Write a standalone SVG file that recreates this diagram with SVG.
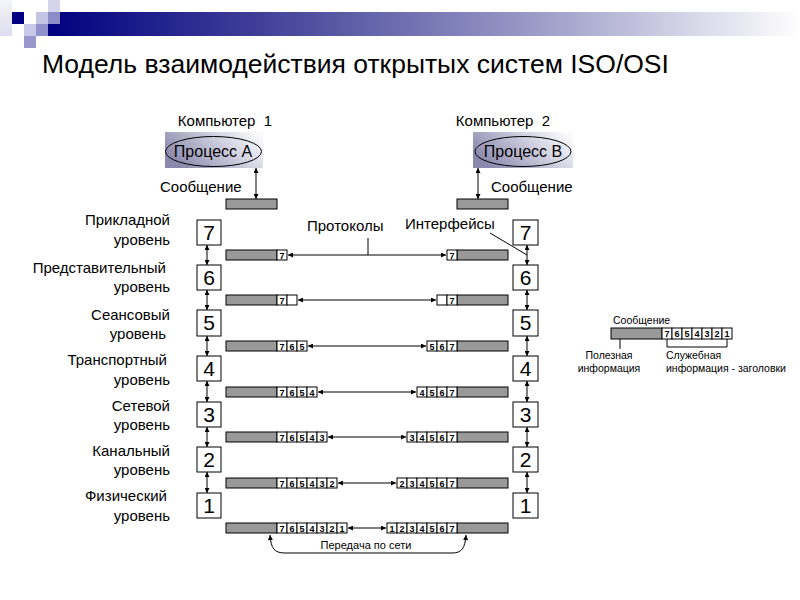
<svg xmlns="http://www.w3.org/2000/svg" width="800" height="600" viewBox="0 0 800 600">
<defs>
<linearGradient id="hdr" x1="0" y1="0" x2="1" y2="0">
<stop offset="0" stop-color="#000080"/>
<stop offset="0.35" stop-color="#5050a0"/>
<stop offset="0.65" stop-color="#9c9cc8"/>
<stop offset="1" stop-color="#ffffff"/>
</linearGradient>
<linearGradient id="lt" x1="0" y1="0" x2="0" y2="1">
<stop offset="0" stop-color="#f4f4fa"/>
<stop offset="1" stop-color="#dcdcee"/>
</linearGradient>
<linearGradient id="proc" x1="0" y1="0.6" x2="1" y2="0.2">
<stop offset="0" stop-color="#8a88ac"/>
<stop offset="0.6" stop-color="#cfcfe0"/>
<stop offset="1" stop-color="#fafafc"/>
</linearGradient>
<marker id="ah" viewBox="0 0 10 10" refX="10" refY="5" markerWidth="6" markerHeight="5" orient="auto-start-reverse" markerUnits="userSpaceOnUse">
<path d="M0,0 L10,5 L0,10 z" fill="#000"/>
</marker>
<style>
text{font-family:"Liberation Sans",Arial,sans-serif;fill:#000}
.t15{font-size:15px}
.t16{font-size:16px}
.lab{font-size:15px;text-anchor:end}
.num{font-size:21px;text-anchor:middle}
.box{fill:#fff;stroke:#000;stroke-width:1}
.gray{fill:#999;stroke:#000;stroke-width:1}
.cell{fill:#fff;stroke:#000;stroke-width:1}
.cn{font-size:9px;font-weight:bold;text-anchor:middle}
.ln{stroke:#000;stroke-width:1;fill:none}
.arr{stroke:#000;stroke-width:1;fill:none;marker-start:url(#ah);marker-end:url(#ah)}
.s10{font-size:10.5px}
</style>
</defs>
<rect width="800" height="600" fill="#fff"/>
<g id="header">
<rect x="0" y="0" width="12" height="36" fill="url(#lt)"/>
<rect x="48" y="12" width="752" height="24" fill="url(#hdr)"/>
<rect x="12" y="12" width="12" height="12" fill="#000080"/>
<rect x="36" y="12" width="12" height="12" fill="#c4c4e4"/>
<rect x="48" y="0" width="12" height="12" fill="#d4d4ec"/>
<rect x="48" y="12" width="12" height="12" fill="#8c8cc8"/>
<rect x="24" y="24" width="12" height="12" fill="#c8c8e8"/>
<rect x="36" y="24" width="12" height="12" fill="#9090cc"/>
<rect x="24" y="36" width="12" height="12" fill="#9898cc"/>
</g>
<text x="42" y="73" style="font-size:26.5px">Модель взаимодействия открытых систем ISO/OSI</text>
<g id="comp1">
<text x="225" y="126" class="t15" text-anchor="middle" xml:space="preserve">Компьютер  1</text>
<rect x="165" y="132" width="98" height="36" fill="url(#proc)"/>
<ellipse cx="213.5" cy="151.5" rx="48" ry="15" class="ln"/>
<text x="213" y="157" class="t16" text-anchor="middle">Процесс А</text>
<text x="160" y="192" class="t15">Сообщение</text>
<rect x="226" y="199" width="51" height="10" class="gray"/>
</g>
<g id="comp2">
<text x="503" y="126" class="t15" text-anchor="middle" xml:space="preserve">Компьютер  2</text>
<rect x="473" y="132" width="100" height="36" fill="url(#proc)"/>
<ellipse cx="523" cy="151.5" rx="48" ry="15" class="ln"/>
<text x="523" y="157" class="t16" text-anchor="middle">Процесс В</text>
<text x="491" y="192" class="t15">Сообщение</text>
<rect x="457" y="199" width="51" height="10" class="gray"/>
</g>
<g id="labels">
<text x="170" y="225" class="lab">Прикладной</text><text x="170" y="245" class="lab">уровень</text>
<text x="166" y="273" class="lab">Представительный</text><text x="170" y="292" class="lab">уровень</text>
<text x="170" y="320" class="lab">Сеансовый</text><text x="166" y="339" class="lab">уровень</text>
<text x="167" y="365" class="lab">Транспортный</text><text x="170" y="385" class="lab">уровень</text>
<text x="170" y="411" class="lab">Сетевой</text><text x="170" y="430" class="lab">уровень</text>
<text x="170" y="456" class="lab">Канальный</text><text x="170" y="475" class="lab">уровень</text>
<text x="167" y="501" class="lab">Физический</text><text x="170" y="521" class="lab">уровень</text>
</g>
<g id="left-stack">
<g id="L7"><rect x="197" y="220" width="24" height="25" class="box"/><text x="209" y="240" class="num">7</text></g>
<g id="L6"><rect x="197" y="265" width="24" height="25" class="box"/><text x="209" y="285" class="num">6</text></g>
<g id="L5"><rect x="197" y="310" width="24" height="26" class="box"/><text x="209" y="330" class="num">5</text></g>
<g id="L4"><rect x="197" y="356" width="24" height="25" class="box"/><text x="209" y="376" class="num">4</text></g>
<g id="L3"><rect x="197" y="402" width="24" height="25" class="box"/><text x="209" y="422" class="num">3</text></g>
<g id="L2"><rect x="197" y="447" width="24" height="25" class="box"/><text x="209" y="467" class="num">2</text></g>
<g id="L1"><rect x="197" y="493" width="24" height="25" class="box"/><text x="209" y="513" class="num">1</text></g>
</g>
<g id="right-stack">
<g id="R7"><rect x="513" y="220" width="25" height="25" class="box"/><text x="525.5" y="240" class="num">7</text></g>
<g id="R6"><rect x="513" y="265" width="25" height="25" class="box"/><text x="525.5" y="285" class="num">6</text></g>
<g id="R5"><rect x="513" y="310" width="25" height="26" class="box"/><text x="525.5" y="330" class="num">5</text></g>
<g id="R4"><rect x="513" y="356" width="25" height="25" class="box"/><text x="525.5" y="376" class="num">4</text></g>
<g id="R3"><rect x="513" y="402" width="25" height="25" class="box"/><text x="525.5" y="422" class="num">3</text></g>
<g id="R2"><rect x="513" y="447" width="25" height="25" class="box"/><text x="525.5" y="467" class="num">2</text></g>
<g id="R1"><rect x="513" y="493" width="25" height="25" class="box"/><text x="525.5" y="513" class="num">1</text></g>
</g>
<g id="packets">
<rect x="226" y="250" width="51" height="10" class="gray"/>
<rect x="277" y="250" width="10" height="10" class="cell"/><text x="282" y="258.5" class="cn">7</text>
<rect x="457" y="250" width="51" height="10" class="gray"/>
<rect x="447" y="250" width="10" height="10" class="cell"/><text x="452" y="258.5" class="cn">7</text>
<rect x="226" y="295" width="51" height="10" class="gray"/>
<rect x="277" y="295" width="10" height="10" class="cell"/><text x="282" y="303.5" class="cn">7</text>
<rect x="287" y="295" width="10" height="10" class="cell"/>
<rect x="457" y="295" width="51" height="10" class="gray"/>
<rect x="437" y="295" width="10" height="10" class="cell"/>
<rect x="447" y="295" width="10" height="10" class="cell"/><text x="452" y="303.5" class="cn">7</text>
<rect x="226" y="341" width="51" height="10" class="gray"/>
<rect x="277" y="341" width="10" height="10" class="cell"/><text x="282" y="349.5" class="cn">7</text>
<rect x="287" y="341" width="10" height="10" class="cell"/><text x="292" y="349.5" class="cn">6</text>
<rect x="297" y="341" width="10" height="10" class="cell"/><text x="302" y="349.5" class="cn">5</text>
<rect x="457" y="341" width="51" height="10" class="gray"/>
<rect x="427" y="341" width="10" height="10" class="cell"/><text x="432" y="349.5" class="cn">5</text>
<rect x="437" y="341" width="10" height="10" class="cell"/><text x="442" y="349.5" class="cn">6</text>
<rect x="447" y="341" width="10" height="10" class="cell"/><text x="452" y="349.5" class="cn">7</text>
<rect x="226" y="387" width="51" height="10" class="gray"/>
<rect x="277" y="387" width="10" height="10" class="cell"/><text x="282" y="395.5" class="cn">7</text>
<rect x="287" y="387" width="10" height="10" class="cell"/><text x="292" y="395.5" class="cn">6</text>
<rect x="297" y="387" width="10" height="10" class="cell"/><text x="302" y="395.5" class="cn">5</text>
<rect x="307" y="387" width="10" height="10" class="cell"/><text x="312" y="395.5" class="cn">4</text>
<rect x="457" y="387" width="51" height="10" class="gray"/>
<rect x="417" y="387" width="10" height="10" class="cell"/><text x="422" y="395.5" class="cn">4</text>
<rect x="427" y="387" width="10" height="10" class="cell"/><text x="432" y="395.5" class="cn">5</text>
<rect x="437" y="387" width="10" height="10" class="cell"/><text x="442" y="395.5" class="cn">6</text>
<rect x="447" y="387" width="10" height="10" class="cell"/><text x="452" y="395.5" class="cn">7</text>
<rect x="226" y="432" width="51" height="10" class="gray"/>
<rect x="277" y="432" width="10" height="10" class="cell"/><text x="282" y="440.5" class="cn">7</text>
<rect x="287" y="432" width="10" height="10" class="cell"/><text x="292" y="440.5" class="cn">6</text>
<rect x="297" y="432" width="10" height="10" class="cell"/><text x="302" y="440.5" class="cn">5</text>
<rect x="307" y="432" width="10" height="10" class="cell"/><text x="312" y="440.5" class="cn">4</text>
<rect x="317" y="432" width="10" height="10" class="cell"/><text x="322" y="440.5" class="cn">3</text>
<rect x="457" y="432" width="51" height="10" class="gray"/>
<rect x="407" y="432" width="10" height="10" class="cell"/><text x="412" y="440.5" class="cn">3</text>
<rect x="417" y="432" width="10" height="10" class="cell"/><text x="422" y="440.5" class="cn">4</text>
<rect x="427" y="432" width="10" height="10" class="cell"/><text x="432" y="440.5" class="cn">5</text>
<rect x="437" y="432" width="10" height="10" class="cell"/><text x="442" y="440.5" class="cn">6</text>
<rect x="447" y="432" width="10" height="10" class="cell"/><text x="452" y="440.5" class="cn">7</text>
<rect x="226" y="478" width="51" height="10" class="gray"/>
<rect x="277" y="478" width="10" height="10" class="cell"/><text x="282" y="486.5" class="cn">7</text>
<rect x="287" y="478" width="10" height="10" class="cell"/><text x="292" y="486.5" class="cn">6</text>
<rect x="297" y="478" width="10" height="10" class="cell"/><text x="302" y="486.5" class="cn">5</text>
<rect x="307" y="478" width="10" height="10" class="cell"/><text x="312" y="486.5" class="cn">4</text>
<rect x="317" y="478" width="10" height="10" class="cell"/><text x="322" y="486.5" class="cn">3</text>
<rect x="327" y="478" width="10" height="10" class="cell"/><text x="332" y="486.5" class="cn">2</text>
<rect x="457" y="478" width="51" height="10" class="gray"/>
<rect x="397" y="478" width="10" height="10" class="cell"/><text x="402" y="486.5" class="cn">2</text>
<rect x="407" y="478" width="10" height="10" class="cell"/><text x="412" y="486.5" class="cn">3</text>
<rect x="417" y="478" width="10" height="10" class="cell"/><text x="422" y="486.5" class="cn">4</text>
<rect x="427" y="478" width="10" height="10" class="cell"/><text x="432" y="486.5" class="cn">5</text>
<rect x="437" y="478" width="10" height="10" class="cell"/><text x="442" y="486.5" class="cn">6</text>
<rect x="447" y="478" width="10" height="10" class="cell"/><text x="452" y="486.5" class="cn">7</text>
<rect x="226" y="523" width="51" height="10" class="gray"/>
<rect x="277" y="523" width="10" height="10" class="cell"/><text x="282" y="531.5" class="cn">7</text>
<rect x="287" y="523" width="10" height="10" class="cell"/><text x="292" y="531.5" class="cn">6</text>
<rect x="297" y="523" width="10" height="10" class="cell"/><text x="302" y="531.5" class="cn">5</text>
<rect x="307" y="523" width="10" height="10" class="cell"/><text x="312" y="531.5" class="cn">4</text>
<rect x="317" y="523" width="10" height="10" class="cell"/><text x="322" y="531.5" class="cn">3</text>
<rect x="327" y="523" width="10" height="10" class="cell"/><text x="332" y="531.5" class="cn">2</text>
<rect x="337" y="523" width="10" height="10" class="cell"/><text x="342" y="531.5" class="cn">1</text>
<rect x="457" y="523" width="51" height="10" class="gray"/>
<rect x="387" y="523" width="10" height="10" class="cell"/><text x="392" y="531.5" class="cn">1</text>
<rect x="397" y="523" width="10" height="10" class="cell"/><text x="402" y="531.5" class="cn">2</text>
<rect x="407" y="523" width="10" height="10" class="cell"/><text x="412" y="531.5" class="cn">3</text>
<rect x="417" y="523" width="10" height="10" class="cell"/><text x="422" y="531.5" class="cn">4</text>
<rect x="427" y="523" width="10" height="10" class="cell"/><text x="432" y="531.5" class="cn">5</text>
<rect x="437" y="523" width="10" height="10" class="cell"/><text x="442" y="531.5" class="cn">6</text>
<rect x="447" y="523" width="10" height="10" class="cell"/><text x="452" y="531.5" class="cn">7</text>
</g>
<g id="connectors">
<line x1="256" y1="168" x2="256" y2="199" class="arr"/>
<line x1="478" y1="168" x2="478" y2="199" class="arr"/>
<line x1="207" y1="245" x2="207" y2="265" class="arr"/>
<line x1="207" y1="290" x2="207" y2="310" class="arr"/>
<line x1="207" y1="336" x2="207" y2="356" class="arr"/>
<line x1="207" y1="381" x2="207" y2="402" class="arr"/>
<line x1="207" y1="427" x2="207" y2="447" class="arr"/>
<line x1="207" y1="472" x2="207" y2="493" class="arr"/>
<line x1="527" y1="245" x2="527" y2="265" class="arr"/>
<line x1="527" y1="290" x2="527" y2="310" class="arr"/>
<line x1="527" y1="336" x2="527" y2="356" class="arr"/>
<line x1="527" y1="381" x2="527" y2="402" class="arr"/>
<line x1="527" y1="427" x2="527" y2="447" class="arr"/>
<line x1="527" y1="472" x2="527" y2="493" class="arr"/>
<line x1="288" y1="255" x2="446" y2="255" class="arr"/>
<line x1="298" y1="300" x2="436" y2="300" class="arr"/>
<line x1="308" y1="346" x2="426" y2="346" class="arr"/>
<line x1="318" y1="392" x2="416" y2="392" class="arr"/>
<line x1="328" y1="437" x2="406" y2="437" class="arr"/>
<line x1="338" y1="483" x2="396" y2="483" class="arr"/>
<line x1="348" y1="528" x2="386" y2="528" class="arr"/>
<line x1="368" y1="238" x2="368" y2="255" class="ln"/>
<line x1="490" y1="233" x2="527" y2="255" class="ln"/>
<path d="M270,535 C271,548 274,553 285,553 L452,553 C462,553 465,548 466,535" class="arr"/>
</g>
<text x="307" y="231" class="t15">Протоколы</text>
<text x="405" y="229" class="t15">Интерфейсы</text>
<text x="366" y="549" style="font-size:11px" text-anchor="middle">Передача по сети</text>
<g id="legend">
<text x="613" y="324" class="s10">Сообщение</text>
<rect x="611" y="328" width="51" height="11" class="gray"/>
<rect x="662" y="328" width="10" height="11" class="cell"/><text x="667" y="337" class="cn">7</text>
<rect x="672" y="328" width="10" height="11" class="cell"/><text x="677" y="337" class="cn">6</text>
<rect x="682" y="328" width="10" height="11" class="cell"/><text x="687" y="337" class="cn">5</text>
<rect x="692" y="328" width="10" height="11" class="cell"/><text x="697" y="337" class="cn">4</text>
<rect x="702" y="328" width="10" height="11" class="cell"/><text x="707" y="337" class="cn">3</text>
<rect x="712" y="328" width="10" height="11" class="cell"/><text x="717" y="337" class="cn">2</text>
<rect x="722" y="328" width="10" height="11" class="cell"/><text x="727" y="337" class="cn">1</text>
<path d="M667,339 V347 H727 V339" class="ln"/>
<line x1="620" y1="339" x2="620" y2="349" class="ln"/>
<text x="609" y="359" class="s10" text-anchor="middle">Полезная</text>
<text x="609" y="372" class="s10" text-anchor="middle">информация</text>
<text x="666" y="359" class="s10">Служебная</text>
<text x="666" y="372" class="s10">информация - заголовки</text>
</g>
</svg>
